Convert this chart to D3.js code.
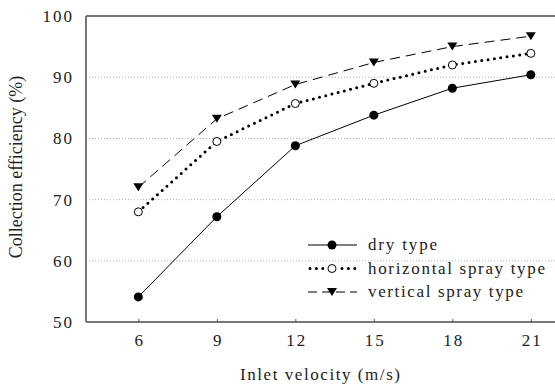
<!DOCTYPE html>
<html>
<head>
<meta charset="utf-8">
<script src="https://cdn.jsdelivr.net/npm/d3@7"></script>
<style>
  body { margin: 0; background: #fff; }
  svg { display: block; }
</style>
</head>
<body>
<svg width="555" height="386"></svg>
<script>
const velocity = [6, 9, 12, 15, 18, 21];
const dryType = [54.1, 67.2, 78.8, 83.8, 88.2, 90.4];
const horizontalSpray = [68.0, 79.5, 85.7, 89.0, 92.0, 93.9];
const verticalSpray = [72.0, 83.2, 88.8, 92.4, 95.0, 96.7];
const yTicks = [50, 60, 70, 80, 90, 100];
const gridTicks = [60, 70, 80, 90];

const FONT = '"Liberation Serif"';
const svg = d3.select("svg");
const plotLeft = 86, plotTop = 16, plotBottom = 322, plotRight = 557;

const x = d3.scaleLinear().domain([4, 22]).range([plotLeft, plotRight]);
const y = d3.scaleLinear().domain([50, 100]).range([plotBottom, plotTop]);

const series = [
    { name: "dry type", values: dryType, dash: null, width: 1, marker: "dot", textLen: 69 },
    { name: "horizontal spray type", values: horizontalSpray, dash: "0 6.4", width: 3, marker: "ring", textLen: 177 },
    { name: "vertical spray type", values: verticalSpray, dash: "10 6", width: 1, marker: "tri", textLen: 155 }
];

// grid
svg.append("g").selectAll("line")
    .data(gridTicks)
    .join("line")
    .attr("x1", plotLeft).attr("x2", 555)
    .attr("y1", d => y(d)).attr("y2", d => y(d))
    .attr("stroke", "#b0b0b0")
    .attr("stroke-dasharray", "1 2");

// frame
const frame = svg.append("g").attr("stroke", "#777").attr("stroke-width", 2);
frame.append("line").attr("x1", plotLeft).attr("x2", 555).attr("y1", plotTop).attr("y2", plotTop);
frame.append("line").attr("x1", plotLeft).attr("x2", plotLeft).attr("y1", plotTop).attr("y2", plotBottom);

// x axis
const xAxis = svg.append("g")
    .attr("transform", `translate(0,${plotBottom})`)
    .call(d3.axisBottom(x).tickValues(velocity).tickSize(-3).tickPadding(12).tickSizeOuter(0));
xAxis.select(".domain").attr("stroke", "#777").attr("stroke-width", 2).attr("d", `M${plotLeft},0H555`);
xAxis.selectAll(".tick line").attr("stroke", "#555");
xAxis.selectAll(".tick text")
    .style("font-family", FONT)
    .attr("font-size", 17).attr("fill", "#222")
    .attr("letter-spacing", 2).attr("dx", 1);

// y axis labels
svg.append("g").selectAll("text")
    .data(yTicks)
    .join("text")
    .attr("x", 74)
    .attr("y", d => y(d) + 6)
    .attr("text-anchor", "end")
    .style("font-family", FONT)
    .attr("font-size", 17)
    .attr("letter-spacing", 2)
    .attr("fill", "#222")
    .text(d => d);

// lines
const line = d3.line().x((d, i) => x(velocity[i])).y(d => y(d));
series.forEach(s => {
    svg.append("path")
        .datum(s.values)
        .attr("fill", "none")
        .attr("stroke", "#000")
        .attr("stroke-width", s.width)
        .attr("stroke-linecap", s.marker === "ring" ? "round" : "butt")
        .attr("stroke-dasharray", s.dash)
        .attr("d", line);
});

function drawMarker(g, type, cx, cy) {
    if (type === "dot") {
        g.append("circle").attr("cx", cx).attr("cy", cy).attr("r", 4.5).attr("fill", "#000");
    } else if (type === "ring") {
        g.append("circle").attr("cx", cx).attr("cy", cy).attr("r", 4)
            .attr("fill", "#fff").attr("stroke", "#000").attr("stroke-width", 1);
    } else {
        g.append("path")
            .attr("d", `M${cx - 5},${cy - 4}L${cx + 5},${cy - 4}L${cx},${cy + 4}Z`)
            .attr("fill", "#000");
    }
}

const markers = svg.append("g");
series.forEach(s => {
    s.values.forEach((v, i) => drawMarker(markers, s.marker, x(velocity[i]), y(v)));
});

// legend
const legend = svg.append("g");
series.forEach((s, i) => {
    const ly = 245 + i * 23.5;
    legend.append("line")
        .attr("x1", s.marker === "ring" ? 310 : 308).attr("x2", 357)
        .attr("y1", ly).attr("y2", ly)
        .attr("stroke", "#000")
        .attr("stroke-width", s.width)
        .attr("stroke-linecap", s.marker === "ring" ? "round" : "butt")
        .attr("stroke-dasharray", s.marker === "tri" ? "9 5" : s.dash);
    if (s.marker === "ring") {
        legend.append("rect").attr("x", 326).attr("y", ly - 5).attr("width", 12).attr("height", 10).attr("fill", "#fff");
    }
    drawMarker(legend, s.marker, 332, ly);
    legend.append("text")
        .attr("x", 368).attr("y", ly + 5)
        .style("font-family", FONT)
        .attr("font-size", 17)
        .attr("fill", "#222")
        .attr("textLength", s.textLen)
        .attr("lengthAdjust", "spacing")
        .text(s.name);
});

// axis titles
svg.append("text")
    .attr("x", 240).attr("y", 380)
    .style("font-family", FONT)
    .attr("font-size", 17).attr("fill", "#222")
    .attr("textLength", 160).attr("lengthAdjust", "spacing")
    .text("Inlet velocity (m/s)");

svg.append("text")
    .attr("transform", "translate(22,167) rotate(-90)")
    .attr("text-anchor", "middle")
    .style("font-family", FONT)
    .attr("font-size", 18).attr("fill", "#222")
    .text("Collection efficiency (%)");
</script>
</body>
</html>
